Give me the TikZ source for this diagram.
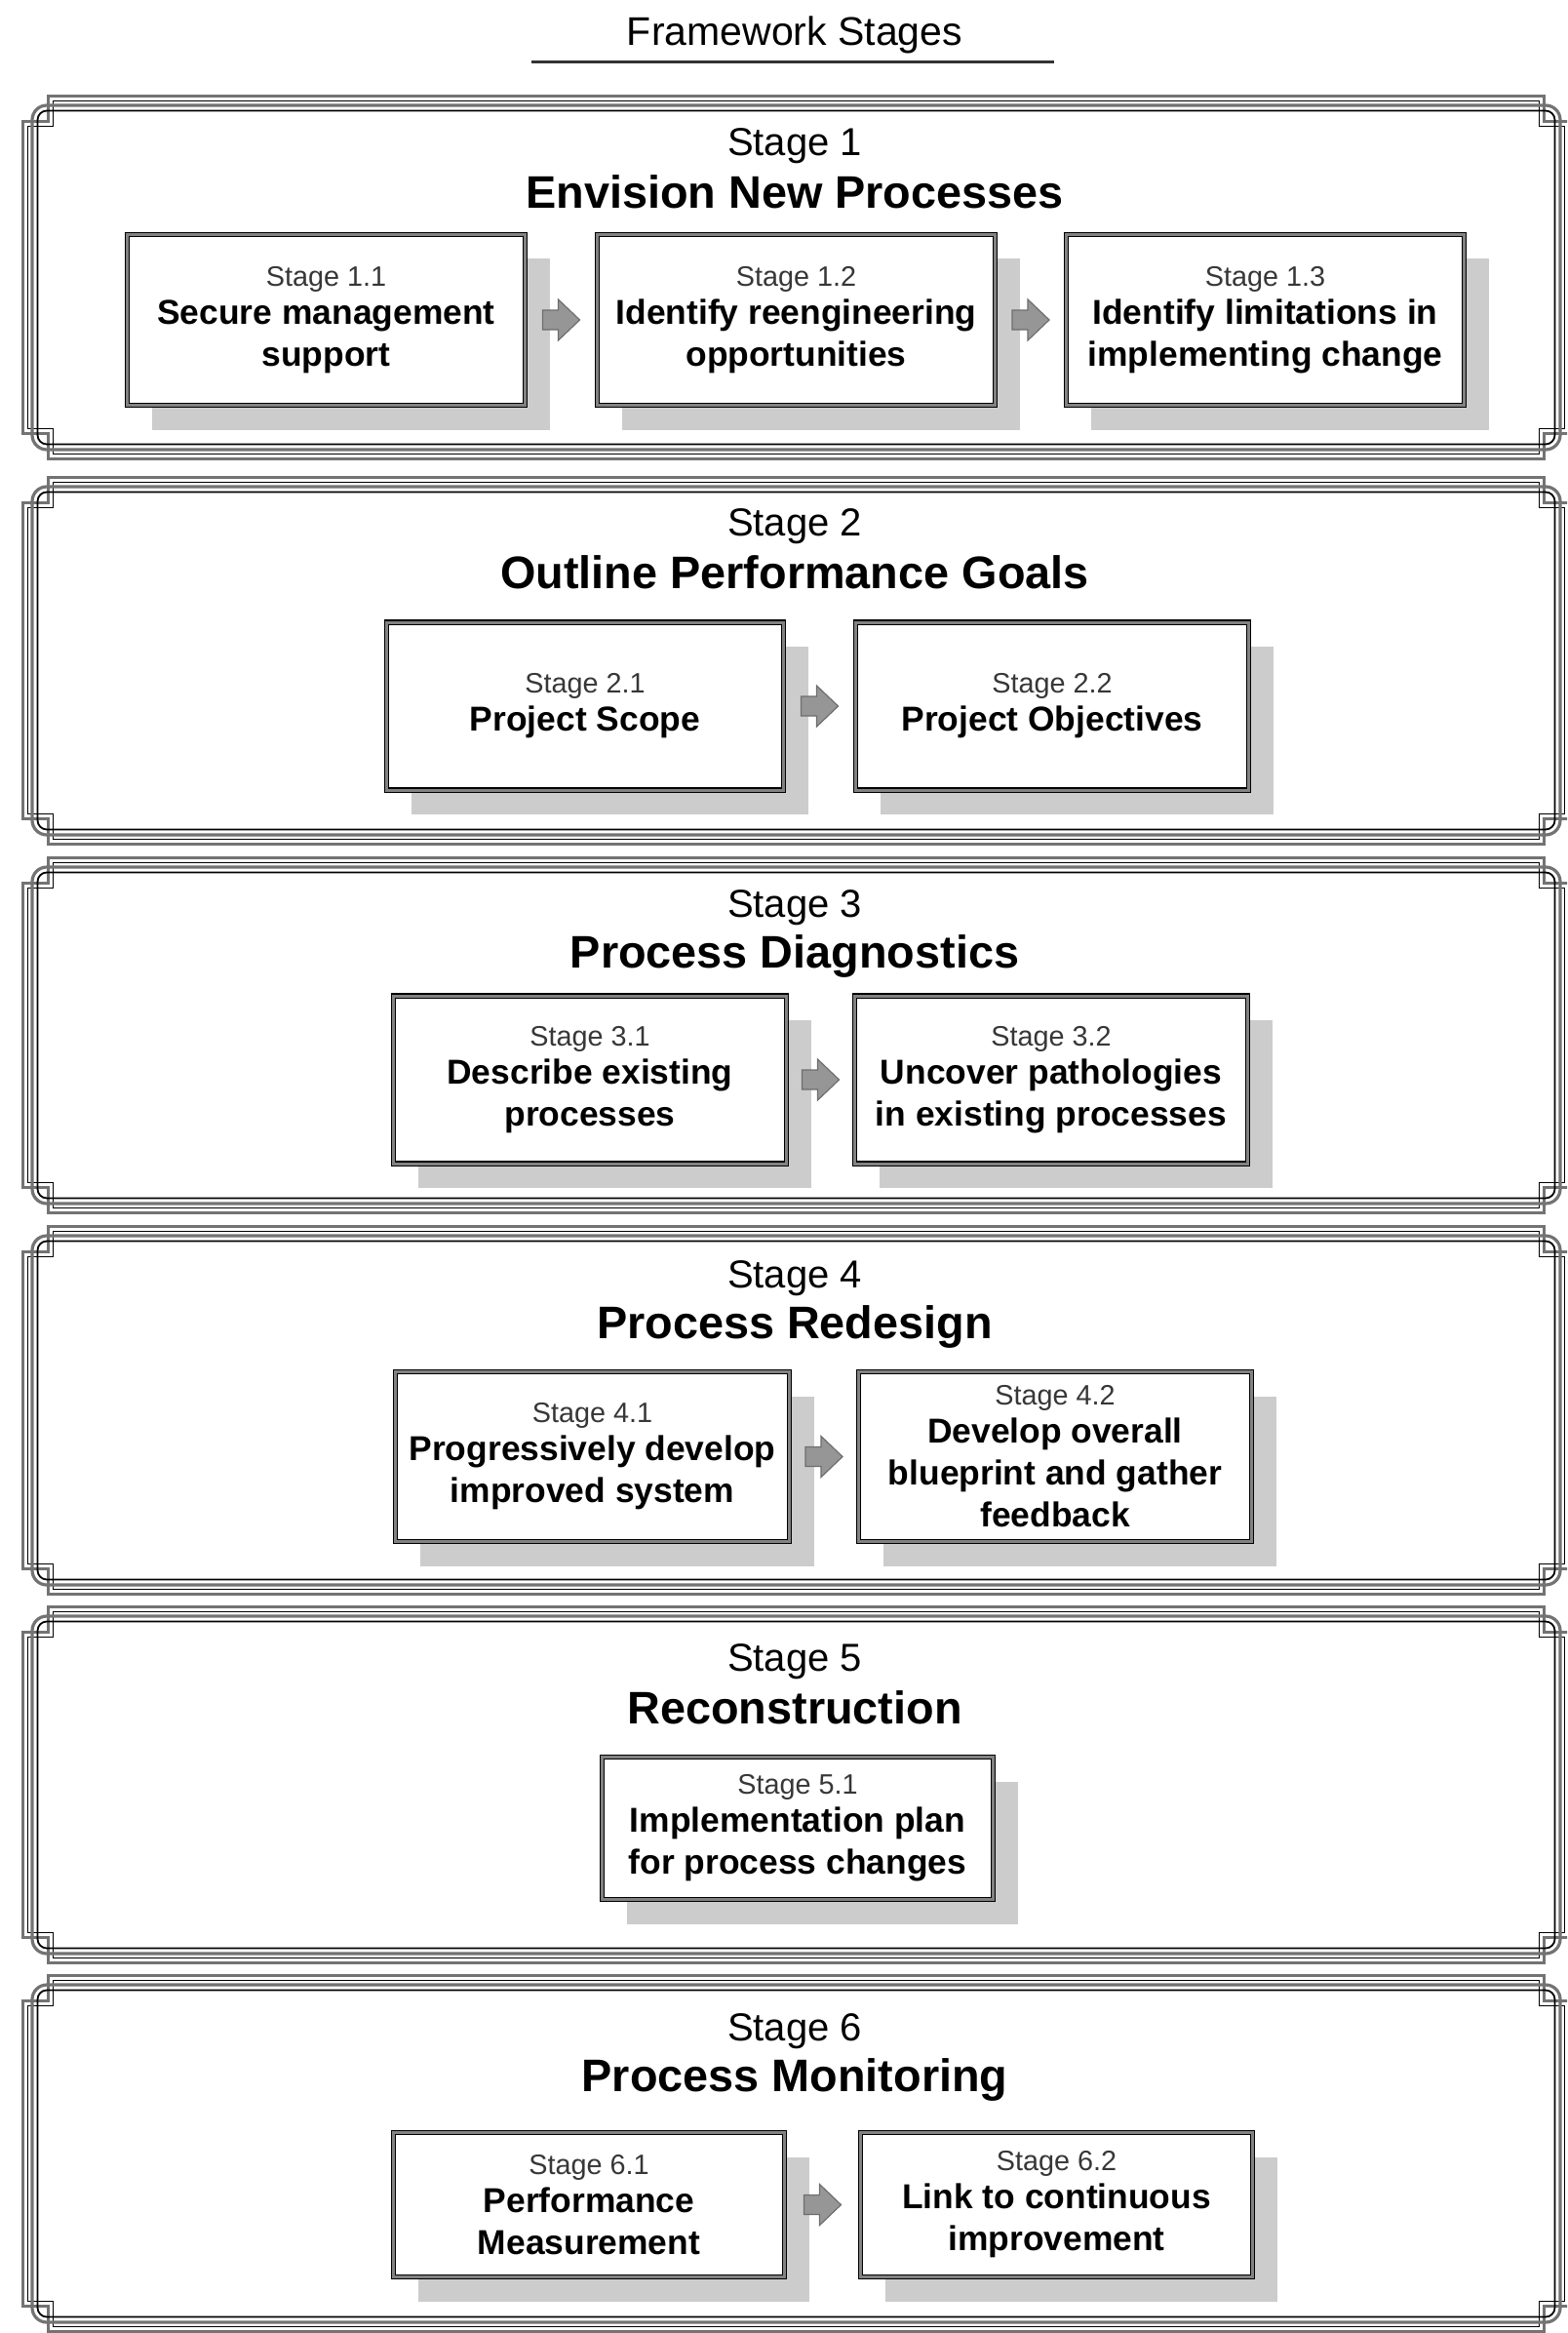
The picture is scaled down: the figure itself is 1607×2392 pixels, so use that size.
\documentclass[tikz,border=0pt]{standalone}
\usepackage{fontspec}
\setmainfont{Liberation Sans}
\usetikzlibrary{shadows,calc}
\definecolor{fgray}{RGB}{115,115,115}
\definecolor{shgray}{RGB}{204,204,204}
\definecolor{argray}{RGB}{150,150,150}
\definecolor{ardark}{RGB}{110,110,110}
\definecolor{lblgray}{RGB}{55,55,55}
\definecolor{bgray}{RGB}{130,130,130}

\newcommand\stgframe[2]{%
  \foreach \dd/\ww/\cc in {1.5/3/fgray,6.5/1.8/black}{%
    \pgfmathsetmacro\fa{22+\dd}\pgfmathsetmacro\fb{#1+\dd}%
    \pgfmathsetmacro\fc{1611-\dd}\pgfmathsetmacro\fe{#2-\dd}%
    \pgfmathsetmacro\fp{48+\dd}\pgfmathsetmacro\fq{#1+26+\dd}%
    \pgfmathsetmacro\fr{1585-\dd}\pgfmathsetmacro\fs{#2-26-\dd}%
    \pgfmathsetmacro\lw{\ww*0.5}%
    \draw[\cc, line width=\lw pt] (\fa,\fq) -- (\fp,\fq) -- (\fp,\fb) -- (\fr,\fb) -- (\fr,\fq) -- (\fc,\fq) -- (\fc,\fs) -- (\fr,\fs) -- (\fr,\fe) -- (\fp,\fe) -- (\fp,\fs) -- (\fa,\fs) -- cycle;
  }%
  \foreach \dd/\ww/\cc in {11/3.2/fgray,16.5/1.8/black}{%
    \pgfmathsetmacro\fa{22+\dd}\pgfmathsetmacro\fb{#1+\dd}%
    \pgfmathsetmacro\fc{1611-\dd}\pgfmathsetmacro\fe{#2-\dd}%
    \pgfmathsetmacro\lw{\ww*0.5}\pgfmathsetmacro\rc{(26-\dd)*0.5}%
    \draw[\cc, line width=\lw pt, rounded corners=\rc pt] (\fa,\fb) rectangle (\fc,\fe);
  }%
}

\newcommand\stgbox[6]{%
  \node[stagebox, minimum width={(#4-5)*0.5pt}, minimum height={(#5-5)*0.5pt}] (#1) at (#2,#3) {#6};%
}
\newcommand\blkarrow[3]{%
  \coordinate (#1) at ($(#2.east)!0.5!(#3.west)$);
  \draw[ardark, fill=argray, line width=0.6pt] ([shift={(-19,-10)}]#1) -- ([shift={(-3,-10)}]#1) -- ([shift={(-3,-21)}]#1) -- ([shift={(19,0)}]#1) -- ([shift={(-3,21)}]#1) -- ([shift={(-3,10)}]#1) -- ([shift={(-19,10)}]#1) -- cycle;
}
\newcommand\bt[2]{{\fontsize{14.4pt}{21.5pt}\selectfont\mdseries\color{lblgray}#1}\\[-2pt]#2}

\begin{document}
\begin{tikzpicture}[x=0.5pt,y=-0.5pt,
  stagebox/.style={draw=black, line width=0.6pt, double=bgray, double distance=1.5pt, fill=white,
    align=center, inner sep=0pt, font=\fontsize{17.7pt}{21.5pt}\selectfont\bfseries,
    drop shadow={shadow xshift=12.5pt, shadow yshift=-12.5pt, fill=shgray, opacity=1}},
  stglbl/.style={anchor=base, font=\fontsize{20pt}{24pt}\selectfont},
  stgtitle/.style={anchor=base, font=\fontsize{23.4pt}{28pt}\selectfont\bfseries}]
\useasboundingbox (0,0) rectangle (1607,2392);
\clip (0,0) rectangle (1607,2392);

% title
\node[anchor=base, font=\fontsize{20.5pt}{24pt}\selectfont] (title) at (815,47) {Framework Stages};
\draw[black!80, line width=1.5pt] (545,64) -- (1081,64);

% frames
\stgframe{97}{472}
\stgframe{488}{867}
\stgframe{878}{1245}
\stgframe{1256}{1636}
\stgframe{1646}{2014}
\stgframe{2024}{2392}

% Stage 1
\node[stglbl] (s1) at (815,160) {Stage 1};
\node[stgtitle] (t1) at (815,214) {Envision New Processes};
\stgbox{b11}{334.5}{328}{413}{180}{\bt{Stage 1.1}{Secure management\\support}}
\stgbox{b12}{816.5}{328}{413}{180}{\bt{Stage 1.2}{Identify reengineering\\opportunities}}
\stgbox{b13}{1297.5}{328}{413}{180}{\bt{Stage 1.3}{Identify limitations in\\implementing change}}
\blkarrow{a11}{b11}{b12}
\blkarrow{a12}{b12}{b13}

% Stage 2
\node[stglbl] (s2) at (815,549) {Stage 2};
\node[stgtitle] (t2) at (815,603) {Outline Performance Goals};
\stgbox{b21}{600}{724}{412}{177}{\bt{Stage 2.1}{Project Scope}}
\stgbox{b22}{1079}{724}{408}{177}{\bt{Stage 2.2}{Project Objectives}}
\blkarrow{a21}{b21}{b22}

% Stage 3
\node[stglbl] (s3) at (815,940) {Stage 3};
\node[stgtitle] (t3) at (815,992) {Process Diagnostics};
\stgbox{b31}{605}{1107}{408}{177}{\bt{Stage 3.1}{Describe existing\\processes}}
\stgbox{b32}{1078}{1107}{408}{177}{\bt{Stage 3.2}{Uncover pathologies\\in existing processes}}
\blkarrow{a31}{b31}{b32}

% Stage 4
\node[stglbl] (s4) at (815,1320) {Stage 4};
\node[stgtitle] (t4) at (815,1372) {Process Redesign};
\stgbox{b41}{607.5}{1493.5}{409}{179}{\bt{Stage 4.1}{Progressively develop\\improved system}}
\stgbox{b42}{1082}{1493.5}{408}{179}{\bt{Stage 4.2}{Develop overall\\blueprint and gather\\feedback}}
\blkarrow{a41}{b41}{b42}

% Stage 5
\node[stglbl] (s5) at (815,1713) {Stage 5};
\node[stgtitle] (t5) at (815,1767) {Reconstruction};
\stgbox{b51}{818}{1874.5}{406}{151}{\bt{Stage 5.1}{Implementation plan\\for process changes}}

% Stage 6
\node[stglbl] (s6) at (815,2092) {Stage 6};
\node[stgtitle] (t6) at (815,2144) {Process Monitoring};
\stgbox{b61}{604}{2260.5}{406}{153}{\bt{Stage 6.1}{Performance\\Measurement}}
\stgbox{b62}{1083.5}{2260.5}{407}{153}{\bt{Stage 6.2}{Link to continuous\\improvement}}
\blkarrow{a61}{b61}{b62}
\end{tikzpicture}
\end{document}
